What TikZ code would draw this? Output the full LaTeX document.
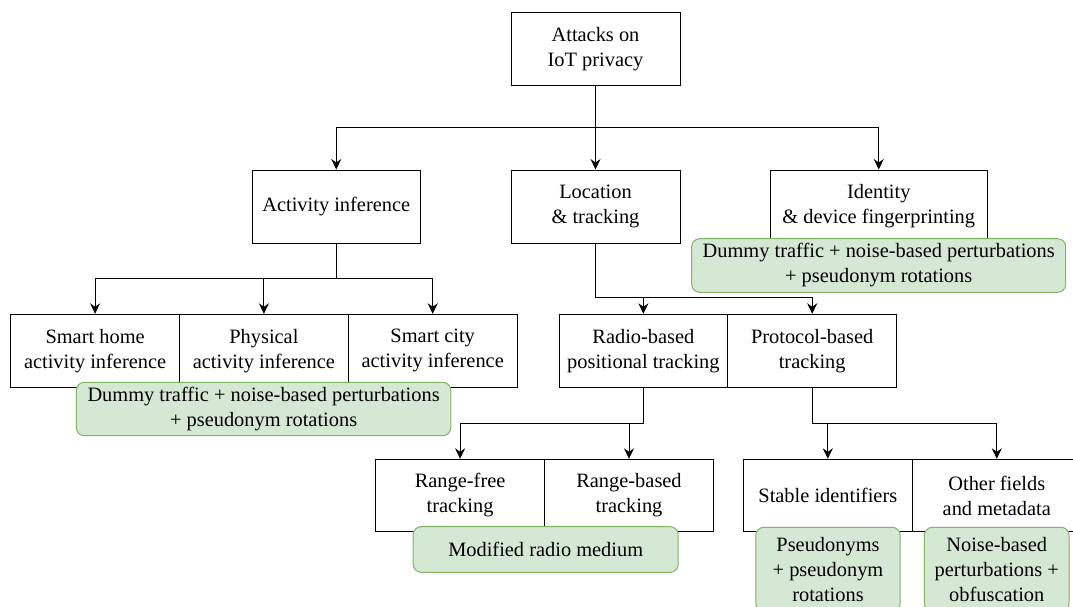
\documentclass[tikz,border=0pt]{standalone}
\usepackage{fontspec}
\setmainfont{Liberation Serif}
\usetikzlibrary{arrows.meta}
\definecolor{fixfill}{HTML}{D5E8D4}
\definecolor{fixdraw}{HTML}{82B366}
\begin{document}
\begin{tikzpicture}[x=1pt,y=-1pt,
  every node/.style={font=\rmfamily\fontsize{20.4}{25}\selectfont, align=center, inner sep=0pt},
  attack/.style={draw=black, line width=1pt, fill=white, minimum width=169pt, minimum height=73pt},
  defence/.style={draw=fixdraw, line width=1pt, fill=fixfill, rounded corners=8pt},
  arr/.style={draw=black, line width=1pt, -{Stealth[length=10.5pt,width=10pt,inset=3.5pt]}},
  conn/.style={draw=black, line width=1pt}]
\clip (0,0) rectangle (1073,607);
\fill[white] (0,0) rectangle (1073,607);

% branching levels of the orthogonal connectors
\coordinate (lvA) at (0,128);
\coordinate (lvB) at (0,278.7);
\coordinate (lvC) at (0,297.3);
\coordinate (lvD) at (0,423.3);

% top two levels
\node[attack] (root) at (595.5,49.5) {Attacks on\\IoT privacy};
\node[attack, minimum width=168.5pt] (act) at (336.25,206.5) {Activity inference};
\node[attack] (loc) at (595.5,206.5) {Location\\\& tracking};
\node[attack, minimum width=217.5pt] (idn) at (878.75,206.5) {Identity\\\& device fingerprinting};

% activity inference subtypes
\node[attack, minimum width=168.8pt] (sh) at (95.1,350.8) {Smart home\\activity inference};
\node[attack, minimum width=168.8pt] (ph) at (263.9,350.8) {Physical\\activity inference};
\node[attack, minimum width=168.8pt] (sc) at (432.7,350.8) {Smart city\\activity inference};

% tracking subtypes
\node[attack, minimum width=168.6pt] (rad) at (643.4,350.8) {Radio-based\\positional tracking};
\node[attack] (pro) at (812.2,350.8) {Protocol-based\\tracking};

\node[attack, minimum width=168.8pt, minimum height=72.4pt] (rfree) at (460.1,495.5) {Range-free\\tracking};
\node[attack, minimum height=72.4pt] (rbase) at (629,495.5) {Range-based\\tracking};
\node[attack, minimum height=72.4pt] (stab) at (827.8,495.5) {Stable identifiers};
\node[attack, minimum height=72.4pt] (oth) at (996.8,495.5) {Other fields\\and metadata};

% connectors
\draw[arr] (root.south) -- (loc.north);
\draw[arr] (root.south |- lvA) -| (act.north);
\draw[arr] (root.south |- lvA) -| (idn.north);

\draw[conn] (act.south) -- (act.south |- lvB);
\draw[arr] (act.south |- lvB) -| (sh.north);
\draw[arr] (act.south |- lvB) -| (sc.north);
\draw[arr] (ph.north |- lvB) -- (ph.north);

\draw[arr] (loc.south) |- (lvC -| pro.north) -- (pro.north);
\draw[arr] (rad.north |- lvC) -- (rad.north);

\draw[arr] (rad.south) |- (lvD -| rfree.north) -- (rfree.north);
\draw[arr] (rbase.north |- lvD) -- (rbase.north);

\draw[arr] (pro.south) |- (lvD -| oth.north) -- (oth.north);
\draw[arr] (stab.north |- lvD) -- (stab.north);

% countermeasures
\node[defence, minimum width=374pt, minimum height=53.6pt] (idnfix) at (878.7,265.5)
  {Dummy traffic + noise-based perturbations\\+ pseudonym rotations};
\node[defence, minimum width=374.4pt, minimum height=53.4pt] (actfix) at (263.6,409)
  {Dummy traffic + noise-based perturbations\\+ pseudonym rotations};
\node[defence, minimum width=265pt, minimum height=45.6pt] (radfix) at (545.7,549.5)
  {Modified radio medium};
\node[defence, minimum width=144.4pt, minimum height=84pt] (stabfix) at (828,569.3)
  {Pseudonyms\\+ pseudonym\\rotations};
\node[defence, minimum width=144.7pt, minimum height=84pt] (othfix) at (996.75,569.3)
  {Noise-based\\perturbations +\\obfuscation};
\end{tikzpicture}
\end{document}
